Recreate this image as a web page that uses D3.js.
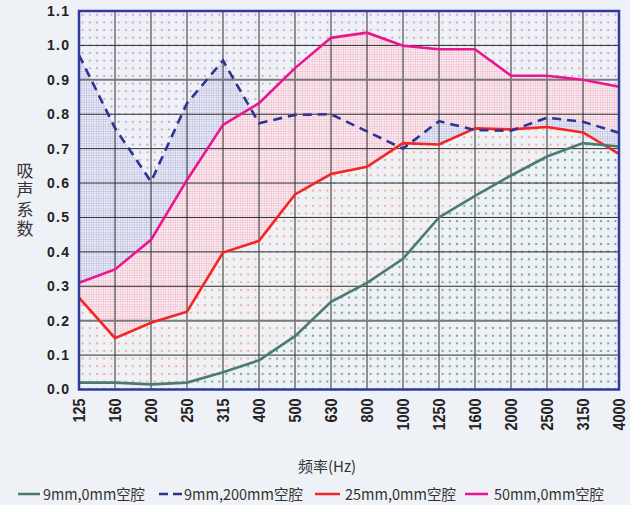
<!DOCTYPE html>
<html>
<head>
<meta charset="utf-8">
<script src="https://cdn.jsdelivr.net/npm/d3@7"></script>
<style>
  body { margin: 0; background: #eef1f5; }
  svg { display: block; }
</style>
</head>
<body>
<svg id="chart"></svg>
<script>
const WIDTH = 630, HEIGHT = 505;

const freqs = ["125", "160", "200", "250", "315", "400", "500", "630", "800", "1000", "1250", "1600", "2000", "2500", "3150", "4000"];
const yTicks = [0, 0.1, 0.2, 0.3, 0.4, 0.5, 0.6, 0.7, 0.8, 0.9, 1.0, 1.1];
const boldTicks = [0.2, 0.9];

const green9mm  = [0.02, 0.02, 0.015, 0.02, 0.05, 0.085, 0.155, 0.255, 0.31, 0.38, 0.50, 0.563, 0.622, 0.677, 0.716, 0.706];
const dash9mm   = [0.972, 0.76, 0.604, 0.832, 0.956, 0.774, 0.798, 0.80, 0.75, 0.70, 0.78, 0.754, 0.752, 0.79, 0.778, 0.746];
const red25mm   = [0.267, 0.149, 0.194, 0.226, 0.398, 0.432, 0.567, 0.626, 0.647, 0.716, 0.712, 0.759, 0.756, 0.763, 0.747, 0.685];
const pink50mm  = [0.31, 0.349, 0.435, 0.609, 0.769, 0.832, 0.934, 1.022, 1.037, 0.999, 0.989, 0.989, 0.912, 0.912, 0.90, 0.88];

const legendItems = [
  { label: "9mm,0mm空腔",   color: "#4b7a72", dash: null,  x1: 18,  x2: 40,  tx: 43,  tl: 102 },
  { label: "9mm,200mm空腔", color: "#2b3590", dash: "9,5", x1: 159, x2: 183, tx: 184, tl: 119 },
  { label: "25mm,0mm空腔",  color: "#f42525", dash: null,  x1: 315, x2: 340, tx: 345, tl: 111 },
  { label: "50mm,0mm空腔",  color: "#ec1590", dash: null,  x1: 465, x2: 488, tx: 494, tl: 110 }
];

const svg = d3.select("svg#chart")
              .attr("width", WIDTH)
              .attr("height", HEIGHT)
              .style("background", "#eef1f5");

const x = d3.scalePoint().domain(freqs).range([79, 619]);
const y = d3.scaleLinear().domain([0, 1.1]).range([389.5, 11]);

const pLeft = x.range()[0], pRight = x.range()[1],
      pTop = y(1.1), pBottom = y(0);

// patterns
const defs = svg.append("defs");

const dots = (id, color) => {
    const p = defs.append("pattern")
        .attr("id", id)
        .attr("patternUnits", "userSpaceOnUse")
        .attr("x", pLeft).attr("y", pTop)
        .attr("width", 7.2).attr("height", 7.64);
    p.append("rect").attr("width", 7.2).attr("height", 7.64).attr("fill", "#eef1f5");
    p.append("rect").attr("x", 2.6).attr("y", 2.8).attr("width", 2).attr("height", 2).attr("fill", color);
}
const hatch = (id, bg, color) => {
    const p = defs.append("pattern")
        .attr("id", id)
        .attr("patternUnits", "userSpaceOnUse")
        .attr("x", pLeft).attr("y", pTop)
        .attr("width", 2.4).attr("height", 2.4);
    p.append("rect").attr("width", 2.4).attr("height", 2.4).attr("fill", bg);
    p.append("rect").attr("width", 2.4).attr("height", 0.8).attr("fill", color);
    p.append("rect").attr("width", 0.8).attr("height", 2.4).attr("fill", color);
}
dots("purpleDots", "#cfa8d2");
dots("orangeDots", "#f6ad92");
dots("tealDots", "#74a79e");
hatch("pinkHatch", "#f8f1f4", "#f3c6d5");
hatch("blueHatch", "#eff1f7", "#c5c6e5");

const areaUnder = (vals) => d3.area()
    .x((d, i) => x(freqs[i]))
    .y0(pBottom)
    .y1((d) => y(d))(vals);

const areaAbove = (vals) => d3.area()
    .x((d, i) => x(freqs[i]))
    .y0(pTop)
    .y1((d) => y(d))(vals);

defs.append("clipPath").attr("id", "abovePink")
    .append("path").attr("d", areaAbove(pink50mm));

defs.append("clipPath").attr("id", "rightOf1000")
    .append("rect")
    .attr("x", x("1000")).attr("y", pTop)
    .attr("width", pRight - x("1000")).attr("height", pBottom - pTop);

const fills = svg.append("g");

fills.append("rect")
    .attr("x", pLeft).attr("y", pTop)
    .attr("width", pRight - pLeft).attr("height", pBottom - pTop)
    .attr("fill", "url(#purpleDots)");

fills.append("path").attr("d", areaUnder(pink50mm)).attr("fill", "url(#pinkHatch)");
fills.append("path").attr("d", areaUnder(dash9mm)).attr("fill", "url(#blueHatch)")
    .attr("clip-path", "url(#abovePink)");
fills.append("path").attr("d", areaUnder(dash9mm)).attr("fill", "url(#blueHatch)")
    .attr("clip-path", "url(#rightOf1000)");
fills.append("path").attr("d", areaUnder(red25mm)).attr("fill", "url(#orangeDots)");
fills.append("path").attr("d", areaUnder(green9mm)).attr("fill", "url(#tealDots)");

// grid
const grid = svg.append("g");
grid.selectAll("line.v")
    .data(freqs.slice(1, -1))
    .join("line")
    .attr("x1", (d) => x(d)).attr("x2", (d) => x(d))
    .attr("y1", pTop).attr("y2", pBottom)
    .attr("stroke", "#2e2e2e").attr("stroke-width", 1);

grid.selectAll("line.h")
    .data(yTicks.slice(1, -1))
    .join("line")
    .attr("x1", pLeft).attr("x2", pRight)
    .attr("y1", (d) => y(d)).attr("y2", (d) => y(d))
    .attr("stroke", (d) => boldTicks.includes(d) ? "#7a7a7a" : "#2e2e2e")
    .attr("stroke-width", (d) => boldTicks.includes(d) ? 2 : 1);

// series lines
const line = d3.line().x((d, i) => x(freqs[i])).y((d) => y(d));

const series = [
    { vals: pink50mm, color: "#ec1590", dash: null },
    { vals: red25mm,  color: "#f42525", dash: null },
    { vals: dash9mm,  color: "#2b3590", dash: "9,6" },
    { vals: green9mm, color: "#4b7a72", dash: null }
];

svg.append("g").selectAll("path")
    .data(series)
    .join("path")
    .attr("d", (d) => line(d.vals))
    .attr("fill", "none")
    .attr("stroke", (d) => d.color)
    .attr("stroke-width", 2.6)
    .attr("stroke-dasharray", (d) => d.dash);

// border
svg.append("rect")
    .attr("x", pLeft).attr("y", pTop)
    .attr("width", pRight - pLeft).attr("height", pBottom - pTop)
    .attr("fill", "none")
    .attr("stroke", "#2e3a9e")
    .attr("stroke-width", 2.5);

// axes
const yAxis = svg.append("g")
    .attr("transform", `translate(${pLeft}, 0)`)
    .call(d3.axisLeft(y).tickValues(yTicks).tickFormat(d3.format(".1f")).tickSize(0).tickPadding(10));
yAxis.select(".domain").remove();
yAxis.selectAll("text")
    .attr("x", -10)
    .attr("textLength", 22)
    .style("font-family", "'Liberation Sans', Arial, sans-serif")
    .style("font-weight", "bold")
    .style("font-size", "14px")
    .attr("fill", "#222");

const xAxis = svg.append("g")
    .attr("transform", `translate(0, ${pBottom})`)
    .call(d3.axisBottom(x).tickSize(0));
xAxis.select(".domain").remove();
xAxis.selectAll("text")
    .attr("transform", "rotate(-90)")
    .attr("x", -9)
    .attr("y", 0)
    .attr("dy", "0.35em")
    .attr("textLength", (d) => d.length * 8)
    .attr("lengthAdjust", "spacingAndGlyphs")
    .style("text-anchor", "end")
    .style("font-family", "'Liberation Sans', Arial, sans-serif")
    .style("font-weight", "bold")
    .style("font-size", "16px")
    .attr("fill", "#222");

// titles
const cjk = "'Noto Sans CJK SC', 'Noto Sans', sans-serif";

svg.append("text")
    .attr("x", 25).attr("y", 201)
    .style("writing-mode", "vertical-rl")
    .style("text-orientation", "upright")
    .style("letter-spacing", "2.5px")
    .style("font-family", cjk)
    .style("font-size", "17px")
    .style("text-anchor", "middle")
    .attr("fill", "#333")
    .text("吸声系数");

svg.append("text")
    .attr("x", 327).attr("y", 472)
    .style("font-family", cjk)
    .style("font-size", "15px")
    .style("text-anchor", "middle")
    .attr("fill", "#333")
    .text("频率(Hz)");

// legend
const legend = svg.append("g");
legend.selectAll("line")
    .data(legendItems)
    .join("line")
    .attr("x1", (d) => d.x1).attr("x2", (d) => d.x2)
    .attr("y1", 494).attr("y2", 494)
    .attr("stroke", (d) => d.color)
    .attr("stroke-width", 2.5)
    .attr("stroke-dasharray", (d) => d.dash);

legend.selectAll("text")
    .data(legendItems)
    .join("text")
    .attr("x", (d) => d.tx).attr("y", 500)
    .attr("textLength", (d) => d.tl)
    .attr("lengthAdjust", "spacingAndGlyphs")
    .style("font-family", cjk)
    .style("font-size", "15px")
    .attr("fill", "#333")
    .text((d) => d.label);
</script>
</body>
</html>
